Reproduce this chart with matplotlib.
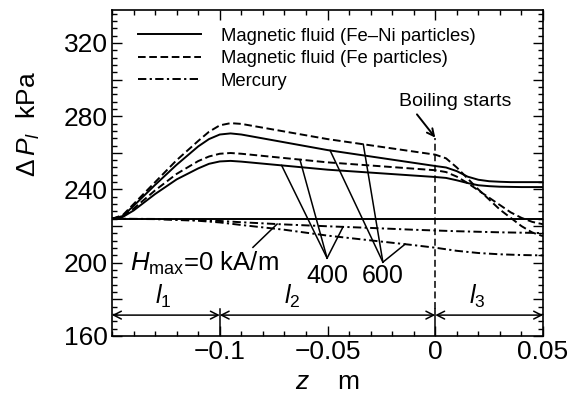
import numpy as np
import matplotlib
matplotlib.use("Agg")
import matplotlib.pyplot as plt
from matplotlib.ticker import MultipleLocator

plt.rcParams['font.family'] = ['Liberation Sans', 'DejaVu Sans']
plt.rcParams['mathtext.fontset'] = 'custom'
plt.rcParams['mathtext.rm'] = 'Liberation Sans'
plt.rcParams['mathtext.it'] = 'Liberation Sans:italic'
plt.rcParams['lines.scale_dashes'] = False

# z positions (m) for the magnetic fluid curves
z_mf = [-0.15, -0.145, -0.14, -0.13, -0.12, -0.11, -0.105, -0.1, -0.095, -0.09, -0.05, 0.0,
        0.005, 0.01, 0.015, 0.02, 0.025, 0.03, 0.035, 0.04, 0.045, 0.05]
# pressure (kPa)
fe_600 = [224, 226, 232, 244, 256, 266.5, 271.5, 275, 276.2, 275.8, 267.5, 259,
          257, 252, 246, 240, 234.5, 229, 224.5, 220, 216.5, 214.5]
feni_600 = [224, 225.5, 231, 242.5, 253.5, 263.5, 267.5, 270, 270.6, 270, 261.5, 252.8,
            252, 250, 247, 245.3, 244.5, 244.2, 244, 244, 244, 244]
fe_400 = [224, 225.3, 229.5, 239.5, 248.5, 255.5, 258, 259.5, 259.9, 259.5, 254.8, 250.5,
          249.5, 247, 243.5, 239.5, 235.5, 231.5, 227.5, 224.5, 222.3, 221]
feni_400 = [224, 225, 228.5, 237.5, 245.5, 251.5, 254, 255.3, 255.6, 255.2, 250.8, 246.8,
            246.3, 245, 243.5, 242.3, 241.8, 241.5, 241.4, 241.3, 241.3, 241.3]

# mercury curves
z_hg = [-0.15, -0.13, -0.11, -0.1, -0.09, -0.07, -0.05, -0.03, -0.01, 0.0,
        0.01, 0.02, 0.03, 0.04, 0.05]
hg_400 = [224, 223.9, 223.3, 222.8, 222.1, 220.9, 219.9, 219, 218, 217.6,
          217.2, 216.9, 216.6, 216.4, 216.2]
hg_600 = [224, 223.8, 222.9, 222, 220.6, 218, 214.8, 212.2, 209.6, 208.2,
          206.5, 205.3, 204.6, 204.2, 204]

# H = 0 (all fluids)
z_h0 = [-0.15, 0.05]
h0 = [224, 224]

# section boundaries
sections = [-0.15, -0.1, 0.0, 0.05]
section_labels = ['$l_1$', '$l_2$', '$l_3$']

fig = plt.figure(figsize=(5.88, 4.05), dpi=100)
ax = fig.add_axes([0.1905, 0.1704, 0.733, 0.805])

lw = 1.4
dash = (5.5, 2.6)
dashdot = (6, 2.4, 1.6, 2.4)

ax.plot(z_mf, feni_600, color='k', lw=lw, label='Magnetic fluid (Fe\u2013Ni particles)')
ax.plot(z_mf, fe_600, color='k', lw=lw, dashes=dash, label='Magnetic fluid (Fe particles)')
ax.plot(z_hg, hg_400, color='k', lw=lw, dashes=dashdot, label='Mercury')
ax.plot(z_mf, feni_400, color='k', lw=lw)
ax.plot(z_mf, fe_400, color='k', lw=lw, dashes=dash)
ax.plot(z_hg, hg_600, color='k', lw=lw, dashes=dashdot)
ax.plot(z_h0, h0, color='k', lw=lw)

ax.set_xlim(-0.15, 0.05)
ax.set_ylim(160, 338)

ax.set_xticks([-0.1, -0.05, 0, 0.05])
ax.set_xticklabels(['\u22120.1', '\u22120.05', '0', '0.05'])
ax.xaxis.set_minor_locator(MultipleLocator(0.01))
ax.yaxis.set_minor_locator(MultipleLocator(4))
ax.set_yticks([160, 180, 200, 220, 240, 260, 280, 300, 320])
ax.set_yticklabels(['160', '', '200', '', '240', '', '280', '', '320'])
ax.tick_params(which='both', direction='in', top=True, right=True, width=1)
ax.tick_params(which='major', length=7, labelsize=19, pad=3)
ax.tick_params(which='minor', length=3.5)
for s in ax.spines.values():
    s.set_linewidth(1.2)

ax.set_ylabel(r'$\Delta\,P_l$  kPa', fontsize=19)
ax.yaxis.set_label_coords(-0.163, 0.65)
ax.set_xlabel(r'$z$    m', fontsize=19, labelpad=4)

leg = ax.legend(loc='upper left', bbox_to_anchor=(0.03, 0.985), frameon=False,
                fontsize=13.3, handlelength=3.4, handletextpad=1.1,
                labelspacing=0.3, borderaxespad=0.3)

# section arrows along the bottom
y_row = 171.4
for a, b in zip(sections[:-1], sections[1:]):
    ax.annotate('', xy=(b, y_row), xytext=(a, y_row),
                arrowprops=dict(arrowstyle='<->,head_length=0.55,head_width=0.28',
                                color='k', lw=1.1, shrinkA=0, shrinkB=0))
ax.text(-0.1263, 181.5, section_labels[0], fontsize=18, ha='center', va='center')
ax.text(-0.0665, 181.5, section_labels[1], fontsize=18, ha='center', va='center')
ax.text(0.0194, 181.5, section_labels[2], fontsize=18, ha='center', va='center')
for zb in sections[1:3]:
    ax.plot([zb, zb], [160, 175], color='k', lw=1.1)

# boiling start
ax.plot([0, 0], [175, 268], color='k', lw=1.1, dashes=(5, 2.6))
ax.text(0.0091, 288, 'Boiling starts', fontsize=14, ha='center', va='center')
ax.annotate('', xy=(0.0, 268.3), xytext=(-0.0085, 281),
            arrowprops=dict(arrowstyle='->,head_length=0.5,head_width=0.25',
                            color='k', lw=1.4, shrinkA=0, shrinkB=0))

# field strength labels with leader lines
def leaders(vx, vy, targets):
    for zt, zs, ys in targets:
        ax.plot([vx, zt], [vy, np.interp(zt, zs, ys)], color='k', lw=1.1)

ax.text(-0.0502, 192.5, '400', fontsize=18, ha='center', va='center')
leaders(-0.0502, 202.5, [(-0.0713, z_mf, feni_400), (-0.0628, z_mf, fe_400),
                         (-0.0428, z_hg, hg_400)])
ax.text(-0.0243, 192.5, '600', fontsize=18, ha='center', va='center')
leaders(-0.0243, 200.3, [(-0.0488, z_mf, feni_600), (-0.0334, z_mf, fe_600),
                         (-0.014, z_hg, hg_600)])
ax.text(-0.1415, 199.5, r'$H_{\rm max}$=0 kA/m', fontsize=18.5, ha='left', va='center')
ax.plot([-0.0846, -0.0734], [208.4, np.interp(-0.0734, z_hg, hg_400)], color='k', lw=1.1)

fig.savefig('out.png', dpi=100)
